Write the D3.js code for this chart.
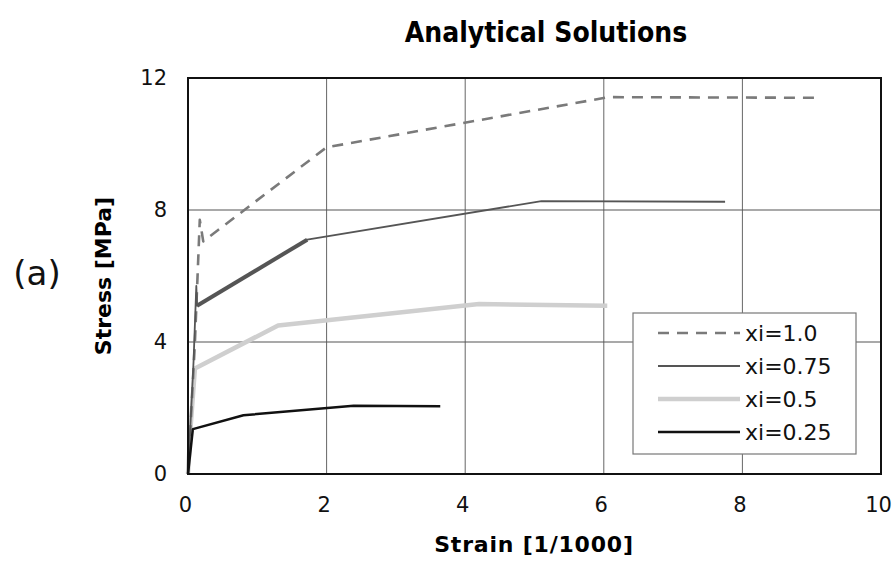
<!DOCTYPE html>
<html><head><meta charset="utf-8">
<script src="https://cdn.jsdelivr.net/npm/d3@7"></script>
<style>
html,body{margin:0;padding:0;background:#fff;}
svg{display:block;}
</style></head>
<body>
<svg id="chart" width="895" height="564"></svg>
<script>
// ---- data ----
const seriesNames = ["xi=1.0", "xi=0.75", "xi=0.5", "xi=0.25"];
const strain_xi100 = [0, 0.10, 0.17, 0.22, 2.0, 6.07, 9.09];
const stress_xi100 = [0, 4.0, 7.7, 7.05, 9.9, 11.42, 11.4];
const strain_xi075 = [0, 0.08, 0.12, 0.13, 1.72, 5.1, 7.75];
const stress_xi075 = [0, 3.4, 5.7, 5.1, 7.1, 8.27, 8.25];
const strain_xi050 = [0, 0.04, 0.1, 1.3, 4.2, 6.05];
const stress_xi050 = [0, 1.5, 3.2, 4.5, 5.15, 5.1];
const strain_xi025 = [0, 0.07, 0.8, 2.39, 3.64];
const stress_xi025 = [0, 1.36, 1.78, 2.07, 2.05];
const xTicks = [0, 2, 4, 6, 8, 10];
const yTicks = [0, 4, 8, 12];
const titleText = "Analytical Solutions";
const xTitle = "Strain [1/1000]";
const yTitle = "Stress [MPa]";
const panelLabel = "(a)";

// ---- layout ----
const svg = d3.select("#chart");
const L = 188, R = 881, T = 78, B = 474;
const x = d3.scaleLinear().domain([0, 10]).range([L, R]);
const y = d3.scaleLinear().domain([0, 12]).range([B, T]);

const zip = (a, b) => a.map((v, i) => [v, b[i]]);
const series = [
  {name: seriesNames[2], pts: zip(strain_xi050, stress_xi050), color: "#cfcfcf", width: 4.5, dash: null},
  {name: seriesNames[0], pts: zip(strain_xi100, stress_xi100), color: "#7a7a7a", width: 2.6, dash: "11,8"},
  {name: seriesNames[1], pts: zip(strain_xi075, stress_xi075), color: "#555", width: 1.8, dash: null},
  {name: seriesNames[3], pts: zip(strain_xi025, stress_xi025), color: "#111", width: 2.5, dash: null}
];

// grid
const g = svg.append("g");
g.selectAll("line.vx").data(xTicks.filter(d => d > 0 && d < 10)).enter().append("line")
  .attr("x1", d => x(d)).attr("x2", d => x(d)).attr("y1", T).attr("y2", B)
  .attr("stroke", "#666").attr("stroke-width", 1);
g.selectAll("line.hy").data(yTicks.filter(d => d > 0 && d < 12)).enter().append("line")
  .attr("y1", d => y(d)).attr("y2", d => y(d)).attr("x1", L).attr("x2", R)
  .attr("stroke", "#555").attr("stroke-width", 1.2);

// lines
const line = d3.line().x(d => x(d[0])).y(d => y(d[1]));
series.forEach(s => {
  svg.append("path").attr("d", line(s.pts)).attr("fill", "none")
    .attr("stroke", s.color).attr("stroke-width", s.width)
    .attr("stroke-dasharray", s.dash).attr("stroke-linejoin", "round");
});
// thicker early segment of xi=0.75
svg.append("path").attr("d", line(zip(strain_xi075, stress_xi075).slice(3, 5))).attr("fill", "none")
  .attr("stroke", "#555").attr("stroke-width", 4);

// plot frame
svg.append("rect").attr("x", L).attr("y", T).attr("width", R - L).attr("height", B - T)
  .attr("fill", "none").attr("stroke", "#111").attr("stroke-width", 2);

// axes labels
const xAxis = d3.axisBottom(x).tickValues(xTicks).tickSize(0).tickPadding(23).tickFormat(d3.format("d"));
const xa = svg.append("g").attr("transform", `translate(-3,${B})`).call(xAxis);
xa.select(".domain").remove();
xa.selectAll("text").attr("font-family", "DejaVu Sans, Verdana, sans-serif").attr("font-size", 21).attr("fill", "#111");

const yAxis = d3.axisLeft(y).tickValues(yTicks).tickSize(0).tickPadding(21).tickFormat(d3.format("d"));
const ya = svg.append("g").attr("transform", `translate(${L},0)`).call(yAxis);
ya.select(".domain").remove();
ya.selectAll("text").attr("font-family", "DejaVu Sans, Verdana, sans-serif").attr("font-size", 21).attr("fill", "#111");

// titles
svg.append("text").attr("x", 546).attr("y", 42).attr("text-anchor", "middle")
  .attr("font-family", "DejaVu Sans Condensed, DejaVu Sans, sans-serif").attr("font-weight", "bold")
  .attr("font-size", 28).attr("fill", "#000").text(titleText);
svg.append("text").attr("x", 534).attr("y", 552).attr("text-anchor", "middle")
  .attr("font-family", "DejaVu Sans, Verdana, sans-serif").attr("font-weight", "bold")
  .attr("font-size", 22).attr("letter-spacing", 0.8).attr("fill", "#000").text(xTitle);
svg.append("text").attr("transform", "translate(111,276) rotate(-90)").attr("text-anchor", "middle")
  .attr("font-family", "DejaVu Sans, Verdana, sans-serif").attr("font-weight", "bold")
  .attr("font-size", 22).attr("fill", "#000").text(yTitle);
svg.append("text").attr("x", 37).attr("y", 285).attr("text-anchor", "middle")
  .attr("font-family", "DejaVu Sans, Verdana, sans-serif")
  .attr("font-size", 34).attr("fill", "#111").text(panelLabel);

// legend
const lg = svg.append("g");
lg.append("rect").attr("x", 633).attr("y", 313).attr("width", 223).attr("height", 141)
  .attr("fill", "#fff").attr("stroke", "#777").attr("stroke-width", 1.2);
const legendOrder = [1, 2, 0, 3];
const rowY = [333, 366, 399, 432];
legendOrder.forEach((si, i) => {
  const s = series[si];
  lg.append("line").attr("x1", 658).attr("x2", 740).attr("y1", rowY[i]).attr("y2", rowY[i])
    .attr("stroke", s.color).attr("stroke-width", s.name === "xi=0.75" ? 1.8 : s.width)
    .attr("stroke-dasharray", s.dash);
  lg.append("text").attr("x", 745).attr("y", rowY[i]).attr("dy", "0.36em")
    .attr("font-family", "DejaVu Sans, Verdana, sans-serif").attr("font-size", 22)
    .attr("fill", "#111").text(s.name);
});
</script>
</body></html>
